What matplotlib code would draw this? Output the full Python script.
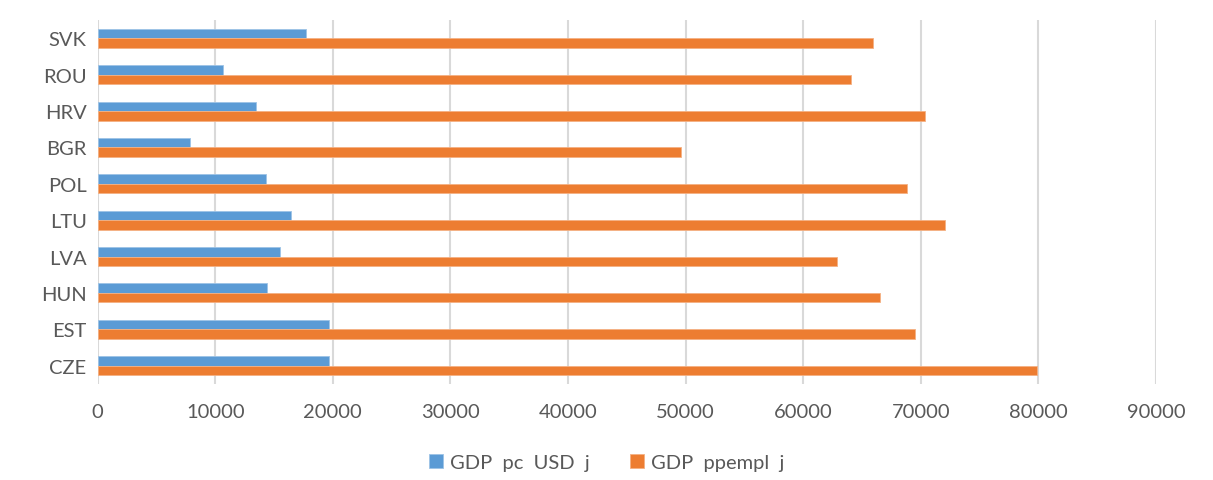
import numpy as np
import matplotlib.pyplot as plt

# Country codes, bottom to top as they appear on the axis
countries = ['CZE', 'EST', 'HUN', 'LVA', 'LTU', 'POL', 'BGR', 'HRV', 'ROU', 'SVK']
gdp_pc_usd = [19670, 19670, 14370, 15530, 16440, 14310, 7820, 13490, 10680, 17690]
gdp_ppempl = [79870, 69500, 66550, 62870, 72050, 68820, 49575, 70350, 64080, 65950]
xticks = np.arange(0, 90001, 10000)

blue = '#5B9BD5'
orange = '#ED7D31'
text_col = '#595959'

plt.rcParams['font.family'] = ['Lato', 'DejaVu Sans']

fig = plt.figure(figsize=(12.13, 4.81), dpi=100)
ax = fig.add_axes([0.0805, 0.2, 0.8725, 0.756])

y = np.arange(len(countries))
h = 0.26
ax.barh(y + h / 2, gdp_pc_usd, height=h, color=blue, edgecolor='#9DC3E6',
        linewidth=0.6, label='GDP  pc  USD  j', zorder=3)
ax.barh(y - h / 2, gdp_ppempl, height=h, color=orange, edgecolor='#F4B183',
        linewidth=0.6, label='GDP  ppempl  j', zorder=3)

ax.set_xlim(0, 90000)
ax.set_ylim(-0.5, len(countries) - 0.5)
ax.set_xticks(xticks)
ax.set_xticklabels([str(v) for v in xticks])
ax.set_yticks(y)
ax.set_yticklabels(countries)
ax.tick_params(axis='both', length=0, labelsize=14.5, colors=text_col)
ax.tick_params(axis='x', pad=14)
ax.tick_params(axis='y', pad=8)

ax.grid(axis='x', color='#D9D9D9', linewidth=1.5, zorder=0)
for s in ax.spines.values():
    s.set_visible(False)

fig.legend(loc='center', bbox_to_anchor=(0.5, 0.037), ncol=2, frameon=False,
           fontsize=14.5, labelcolor=text_col, handlelength=0.7, handleheight=0.7,
           handletextpad=0.35, columnspacing=2.0)

fig.savefig('out.png', dpi=100, facecolor='white')
